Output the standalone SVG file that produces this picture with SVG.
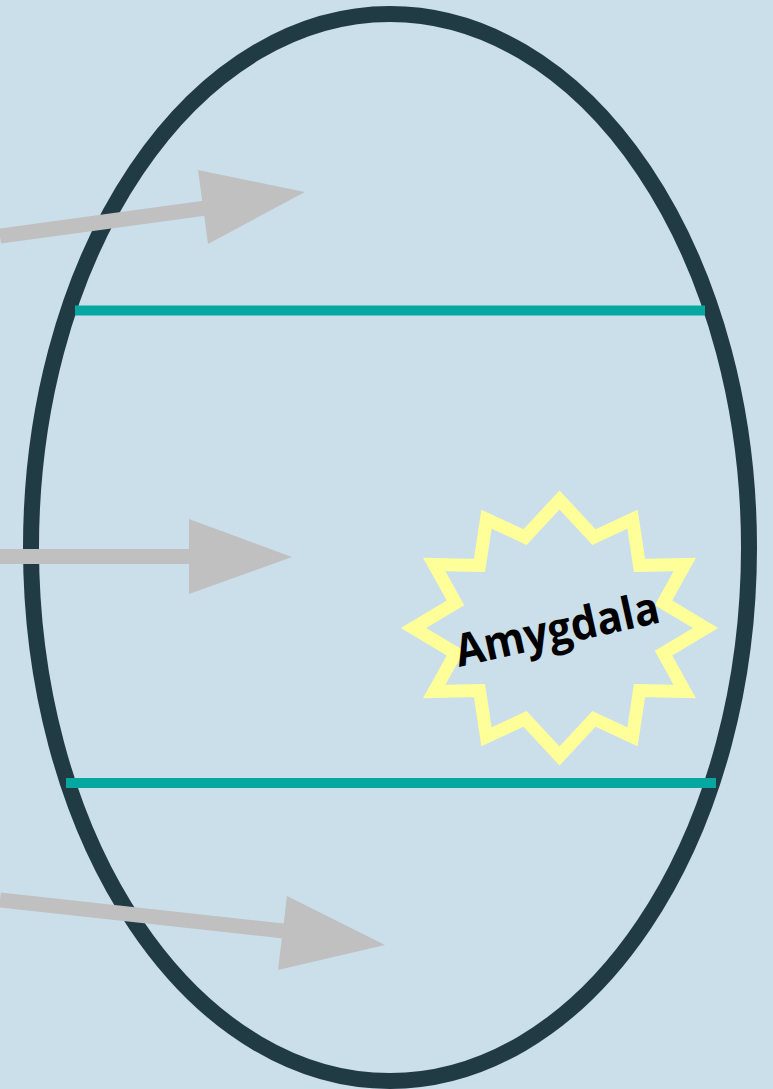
<svg xmlns="http://www.w3.org/2000/svg" width="773" height="1089" viewBox="0 0 773 1089">
<style>
.bg{fill:#cbdfea}
.divider{stroke:#06a7a0;stroke-width:10;fill:none}
.outline{fill:none;stroke:#213b45;stroke-width:16}
.shaft{stroke:#c0c0c0;stroke-width:15;fill:none}
.head{fill:#c0c0c0}
.star{fill:none;stroke:#ffff99;stroke-width:13;stroke-linejoin:miter;stroke-miterlimit:10}
.label{font-family:"Open Sans","Liberation Sans",sans-serif;font-weight:bold;font-size:45px;fill:#000}
</style>
<rect class="bg" x="0" y="0" width="773" height="1089"/>
<g id="brain">
<ellipse class="outline" cx="390" cy="547.5" rx="359" ry="533.5"/>
</g>
<g id="dividers">
<line class="divider" x1="75" y1="310.5" x2="705" y2="310.5"/>
<line class="divider" x1="66" y1="783" x2="716" y2="783"/>
</g>
<g id="amygdala">
<polygon class="star" points="705.5,628.0 663.5,602.9 684.8,564.5 639.5,565.5 632.5,519.2 594.0,537.1 559.5,500.0 525.0,537.1 486.5,519.2 479.5,565.5 434.2,564.5 455.5,602.9 413.5,628.0 455.5,653.1 434.2,691.5 479.5,690.5 486.5,736.8 525.0,718.9 559.5,756.0 594.0,718.9 632.5,736.8 639.5,690.5 684.8,691.5 663.5,653.1"/>
<text class="label" transform="translate(459,667) rotate(-12.5)" x="0" y="0" textLength="208" lengthAdjust="spacingAndGlyphs">Amygdala</text>
</g>
<g id="connectors">
<g id="arrow-top">
<line class="shaft" x1="0" y1="236" x2="206" y2="208"/>
<polygon class="head" points="198,170 305,192 208,244"/>
</g>
<g id="arrow-middle">
<line class="shaft" x1="0" y1="556.5" x2="192" y2="556.5"/>
<polygon class="head" points="189,519 292,557 189,594"/>
</g>
<g id="arrow-bottom">
<line class="shaft" x1="0" y1="900" x2="284" y2="931"/>
<polygon class="head" points="287,896 385,945 278,970"/>
</g>
</g>
</svg>
